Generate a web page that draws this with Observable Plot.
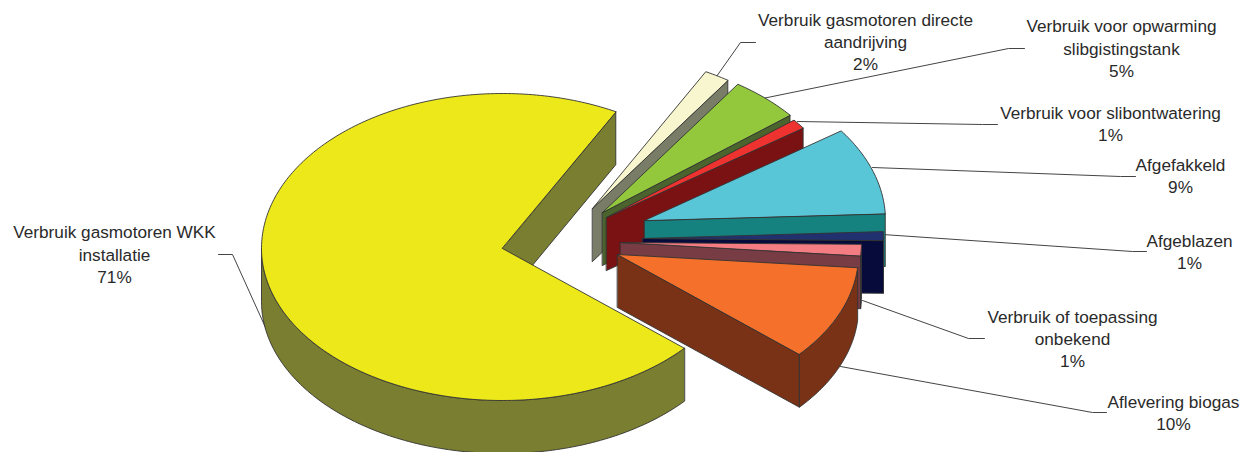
<!DOCTYPE html>
<html>
<head>
<meta charset="utf-8">
<script src="https://cdn.jsdelivr.net/npm/d3@7"></script>
<script src="https://cdn.jsdelivr.net/npm/@observablehq/plot@0.6"></script>
<style>
html,body{margin:0;padding:0;background:#fff}
svg{display:block}
</style>
</head>
<body>
<div id="chart"></div>
<script>
// Data
const categories = ["Verbruik gasmotoren WKK\ninstallatie","Verbruik gasmotoren directe\naandrijving","Verbruik voor opwarming\nslibgistingstank","Verbruik voor slibontwatering","Afgefakkeld","Afgeblazen","Verbruik of toepassing\nonbekend","Aflevering biogas"];
const values = [71.4,1.7,4.7,1.0,9.1,0.9,1.2,10.0];

// Styles
const topColors  = ["#ECE81A","#F7F6CE","#93C83D","#EE3230","#59C6D8","#21306F","#F47D83","#F5702A"];
const sideColors = ["#7A7E30","#797C66","#4B632C","#7A1214","#158280","#060B3B","#773C44","#7A3216"];

// Layout of the exploded 3-D pie
const W = 1242, H = 452;
const rx = 241, ryBack = 155, ryFront = 152, depth = 53, startAngle = 41;
const apexX = [502,592,602,606,644,642,620,617];
const apexY = [248,208,212,217,220,238,242,254];
const labelX = [114,865,1121,1110,1180,1189,1072,1173];
const labelY = [253,40.5,47,122.5,174.5,250,337.5,411];
const leaderX = [[265,232,218],[716,740,755],[762,1008,1024],[797,982,997],[872,1120,1135],[882,1132,1146],[862,968,984],[840,1092,1106]];
const leaderY = [[327,254,254],[76,42,42],[98,48,48],[121,124,124],[167,176,176],[234,251,251],[300,338,338],[366,412,412]];

const total = d3.sum(values);
const rad = d => d * Math.PI / 180;
let acc = startAngle;
const faces = [];
const addFace = (id, color, pts) => pts.forEach(([x, y]) => faces.push({id, color, x, y}));
values.forEach((v, i) => {
  const a0 = acc, a1 = acc + v / total * 360; acc = a1;
  const cx = apexX[i], cy = apexY[i];
  const pt = (a, dz = 0) => {
    const s = Math.sin(rad(a));
    return [cx + rx * Math.cos(rad(a)), cy + (s > 0 ? ryFront : ryBack) * s + dz];
  };
  const sample = (lo, hi) => {
    const steps = Math.max(2, Math.ceil(hi - lo));
    return d3.range(steps + 1).map(k => lo + (hi - lo) * k / steps);
  };
  // only the faces that turn towards the viewer are painted
  if (Math.cos(rad(a0)) < 0) addFace(`s${i}-a`, sideColors[i], [[cx, cy], pt(a0), pt(a0, depth), [cx, cy + depth]]);
  if (Math.cos(rad(a1)) > 0) addFace(`s${i}-b`, sideColors[i], [[cx, cy], pt(a1), pt(a1, depth), [cx, cy + depth]]);
  // rim: the part of the arc between 0 and 180 degrees (and its full-turn repeats)
  const turn = Math.floor(a0 / 360) * 360;
  for (const base of [turn, turn + 360]) {
    const lo = Math.max(a0, base), hi = Math.min(a1, base + 180);
    if (hi > lo) {
      const arc = sample(lo, hi);
      addFace(`s${i}-r${base}`, sideColors[i], [...arc.map(a => pt(a)), ...arc.slice().reverse().map(a => pt(a, depth))]);
    }
  }
  addFace(`s${i}-t`, topColors[i], [[cx, cy], ...sample(a0, a1).map(a => pt(a))]);
});

const leaders = leaderX.flatMap((xs, i) => xs.map((x, k) => ({i, x, y: leaderY[i][k]})));
const labels = categories.map((c, i) => ({
  text: `${c}\n${Math.round(values[i])}%`, x: labelX[i], y: labelY[i]
}));

const chart = Plot.plot({
  width: W, height: H, margin: 0,
  x: {domain: [0, W], range: [0, W], axis: null},
  y: {domain: [0, H], range: [0, H], axis: null},
  style: {background: "#fff"},
  marks: [
    Plot.line(leaders, {x: "x", y: "y", z: "i", stroke: "#444", strokeWidth: 1}),
    Plot.line(faces, {x: "x", y: "y", z: "id", fill: "color", stroke: "#333", strokeWidth: 0.9, curve: "linear-closed", strokeLinejoin: "round"}),
    Plot.text(labels, {x: "x", y: "y", text: "text", fontSize: 17.2, lineHeight: 1.29, fontFamily: "Liberation Sans", fill: "#2a2a2a", textAnchor: "middle"})
  ]
});
document.getElementById("chart").appendChild(chart);
</script>
</body>
</html>
